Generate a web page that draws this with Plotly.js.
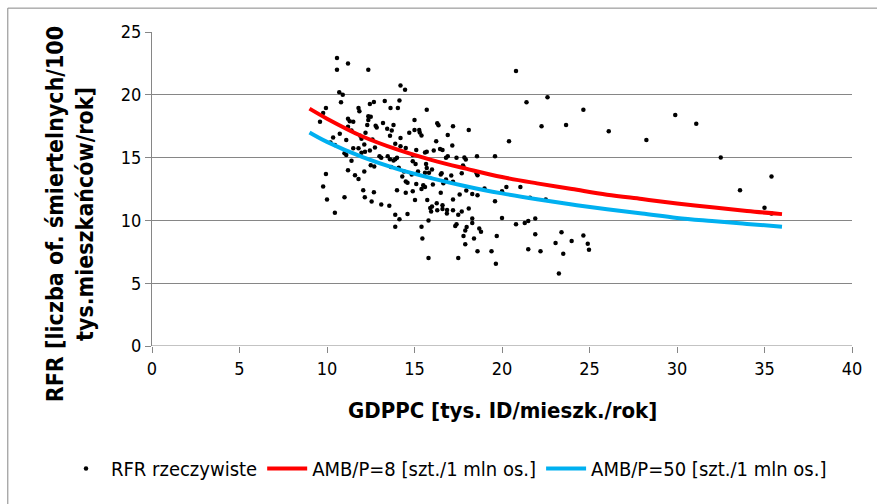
<!DOCTYPE html>
<html>
<head>
<meta charset="utf-8">
<script src="https://cdn.plot.ly/plotly-3.0.1.min.js"></script>
<style>
html,body{margin:0;padding:0;background:#fff;}
#chart{width:877px;height:504px;}
</style>
</head>
<body>
<div id="chart"></div>
<script>
const gdppc = [
10.57,10.57,11.2,12.36,20.8,10.7,10.9,14.2,14.46,14.14,10.8,21.4,22.6,24.65,15.7,29.9,31.1,26.1,28.25,32.5,
33.6,35.4,35.0,35.4,23.66,22.26,20.4,19.6,18.57,18.1,17.2,9.6,9.78,9.94,10.35,10.2,10.45,9.94,9.78,10.0,
10.45,11.0,11.0,11.1,10.73,11.2,11.3,11.5,11.4,11.2,11.4,11.6,11.8,12.07,12.16,12.55,12.68,13.1,13.56,13.9,
14.14,13.9,14.6,15.4,15.45,15.8,15.8,16.3,16.6,16.85,17.2,17.5,17.7,18.1,18.3,17.4,17.9,17.8,17.9,18.4,
18.6,18.7,18.8,17.5,19.4,19.65,19.7,20.0,20.8,21.3,21.5,21.9,21.9,21.5,22.2,23.06,23.4,23.5,23.98,24.65,
24.9,24.97,23.25,22.5,21.6,21.05,20.25,20.0,19.6,19.0,18.6,18.3,17.96,17.58,17.2,16.5,16.05,15.6,15.1,14.9,
14.5,14.6,14.84,15.2,15.6,16.0,16.5,16.8,17.1,17.8,18.6,14.1,13.8,13.1,12.7,12.13,12.45,11.97,12.13,11.97,
12.2,12.3,12.36,12.36,11.85,11.8,12.45,12.68,13.3,13.63,14.05,12.84,13.2,13.44,13.7,13.8,14.2,13.9,14.5,14.0,
14.9,15.1,15.0,14.7,15.0,15.27,15.4,15.6,16.1,16.24,16.37,16.6,16.9,17.16,17.4,16.8,17.93,17.77,15.66,15.7,
15.06,12.78,11.9,12.6,13.6,14.2,11.1,11.5,11.8,12.17,12.74,13.0,13.47,13.6,13.9,12.5,13.66,14.9,14.4,14.5,
14.3,14.0,15.03,15.73,15.9,16.27,16.86,17.33,17.98,18.3,16.0,16.6,15.95,16.3,15.3,16.46,15.7,16.9,17.85,18.55,
15.83,16.55,15.5,16.65,17.2,17.7,15.4,11.2,12.5
];
const rfr = [
22.93,22.0,22.5,22.0,21.9,20.2,20.0,20.75,20.4,19.55,19.4,19.4,19.8,18.8,18.8,18.4,17.7,17.1,16.4,15.0,
12.4,13.5,11.0,10.55,17.6,17.5,16.3,15.1,15.1,17.2,17.5,17.85,18.55,18.95,16.6,16.2,16.0,13.7,12.7,11.66,
10.6,11.85,15.35,15.2,16.9,17.45,17.9,17.85,17.15,14.0,14.75,13.6,13.3,12.4,11.85,11.5,12.25,11.27,11.16,10.45,
10.1,9.5,10.5,9.5,8.56,7.0,10.0,10.8,11.2,10.55,10.8,10.45,10.7,10.95,10.15,9.7,9.2,8.75,8.1,8.55,
7.55,9.35,9.1,7.0,7.55,6.55,8.75,10.2,9.7,9.8,9.95,10.15,8.9,7.7,7.55,8.2,9.05,7.35,8.35,8.8,
8.15,7.66,5.78,11.66,11.8,12.65,12.65,12.33,11.53,12.54,12.0,12.1,12.38,12.06,11.66,12.2,12.86,12.65,12.9,12.33,
12.2,13.0,13.65,13.9,13.8,14.05,13.65,13.25,13.57,14.26,13.6,14.2,14.77,14.98,14.3,13.9,15.56,15.38,16.04,16.5,
16.97,17.6,18.0,18.3,18.7,18.95,19.27,19.43,19.5,18.95,18.95,17.4,17.76,17.3,17.15,17.6,16.57,16.1,15.77,14.98,
15.2,15.6,18.0,16.97,17.2,17.2,16.75,15.4,15.56,16.3,17.58,15.6,16.8,15.96,14.98,14.98,14.85,14.37,14.5,14.18,
14.5,17.54,16.74,16.45,16.74,15.9,16.4,15.74,15.74,15.47,15.8,15.1,15.1,14.86,14.86,14.4,14.25,14.7,13.9,13.1,
13.5,12.4,11.62,11.62,10.99,11.36,10.83,9.55,9.47,9.8,11.1,10.9,10.7,17.73,17.0,15.68,15.47,15.1,15.0,13.75,
13.8,13.75,12.8,12.95,13.08,13.75,12.5,18.1,18.25
];

// Model curves
const curveX   = [9, 10, 12, 14, 16, 18, 20, 22, 24, 26, 28, 30, 32, 34, 36];
const amb8Y    = [18.9, 18.1, 16.7, 15.65, 14.8, 14.1, 13.45, 12.95, 12.5, 12.05, 11.7, 11.35, 11.05, 10.75, 10.5];
const amb50Y   = [17.0, 16.25, 15.05, 14.1, 13.35, 12.7, 12.15, 11.68, 11.26, 10.88, 10.55, 10.2, 9.95, 9.72, 9.5];

const names = ["RFR rzeczywiste", "AMB/P=8 [szt./1 mln os.]", "AMB/P=50 [szt./1 mln os.]"];
const xTitle = "GDPPC [tys. ID/mieszk./rok]";
const yTitle = "RFR [liczba of. śmiertelnych/100<br>tys.mieszkańców/rok]";

const narrow = "'Liberation Sans Narrow', 'Arial Narrow', 'DejaVu Sans Condensed', 'Liberation Sans', sans-serif";
const grid = "#868686";

const traces = [
  {x: gdppc, y: rfr, type: "scatter", mode: "markers", name: names[0],
   marker: {color: "#000000", size: 4.5}},
  {x: curveX, y: amb8Y, type: "scatter", mode: "lines", name: names[1],
   line: {color: "#FF0000", width: 4, shape: "spline"}},
  {x: curveX, y: amb50Y, type: "scatter", mode: "lines", name: names[2],
   line: {color: "#00B0F0", width: 4, shape: "spline"}}
];

const layout = {
  width: 877, height: 504,
  margin: {l: 152, r: 25, t: 32, b: 158},
  paper_bgcolor: "#ffffff", plot_bgcolor: "#ffffff",
  font: {family: narrow, size: 17, color: "#000000"},
  showlegend: true,
  legend: {orientation: "h", x: -0.13, xanchor: "left", y: -0.39, yanchor: "middle",
           font: {family: narrow, size: 20, color: "#000"}, itemwidth: 40, tracegroupgap: 0},
  xaxis: {range: [0, 40], dtick: 5, tick0: 0, showgrid: false, zeroline: false,
          showline: false, ticks: "outside", ticklen: 6, tickcolor: grid,
          tickfont: {family: narrow, size: 18}, fixedrange: true},
  yaxis: {range: [0, 25], dtick: 5, tick0: 0, showgrid: true, gridcolor: grid, gridwidth: 1,
          zeroline: false, showline: true, linecolor: grid, ticks: "outside", ticklen: 6,
          tickcolor: grid, tickfont: {family: narrow, size: 18}, fixedrange: true},
  shapes: [
    {type: "line", xref: "paper", yref: "y", x0: 0, x1: 1, y0: 0, y1: 0, line: {color: grid, width: 1}},
    {type: "line", xref: "paper", yref: "paper", x0: -0.206, x1: -0.206, y0: 1.076, y1: -0.6, line: {color: grid, width: 1}},
    {type: "line", xref: "paper", yref: "paper", x0: -0.206, x1: 1.06, y0: 1.076, y1: 1.076, line: {color: grid, width: 1}}
  ],
  annotations: [
    {text: "<b>" + xTitle + "</b>", xref: "paper", yref: "paper", x: 0.5, y: -0.204, xanchor: "center", yanchor: "middle",
     showarrow: false, font: {family: narrow, size: 22, color: "#000"}},
    {text: "<b>" + yTitle + "</b>", xref: "paper", yref: "paper", x: -0.117, y: 0.42, xanchor: "center", yanchor: "middle",
     textangle: -90, showarrow: false, font: {family: narrow, size: 23, color: "#000"}}
  ]
};

Plotly.newPlot("chart", traces, layout, {staticPlot: true, displayModeBar: false});
</script>
</body>
</html>
